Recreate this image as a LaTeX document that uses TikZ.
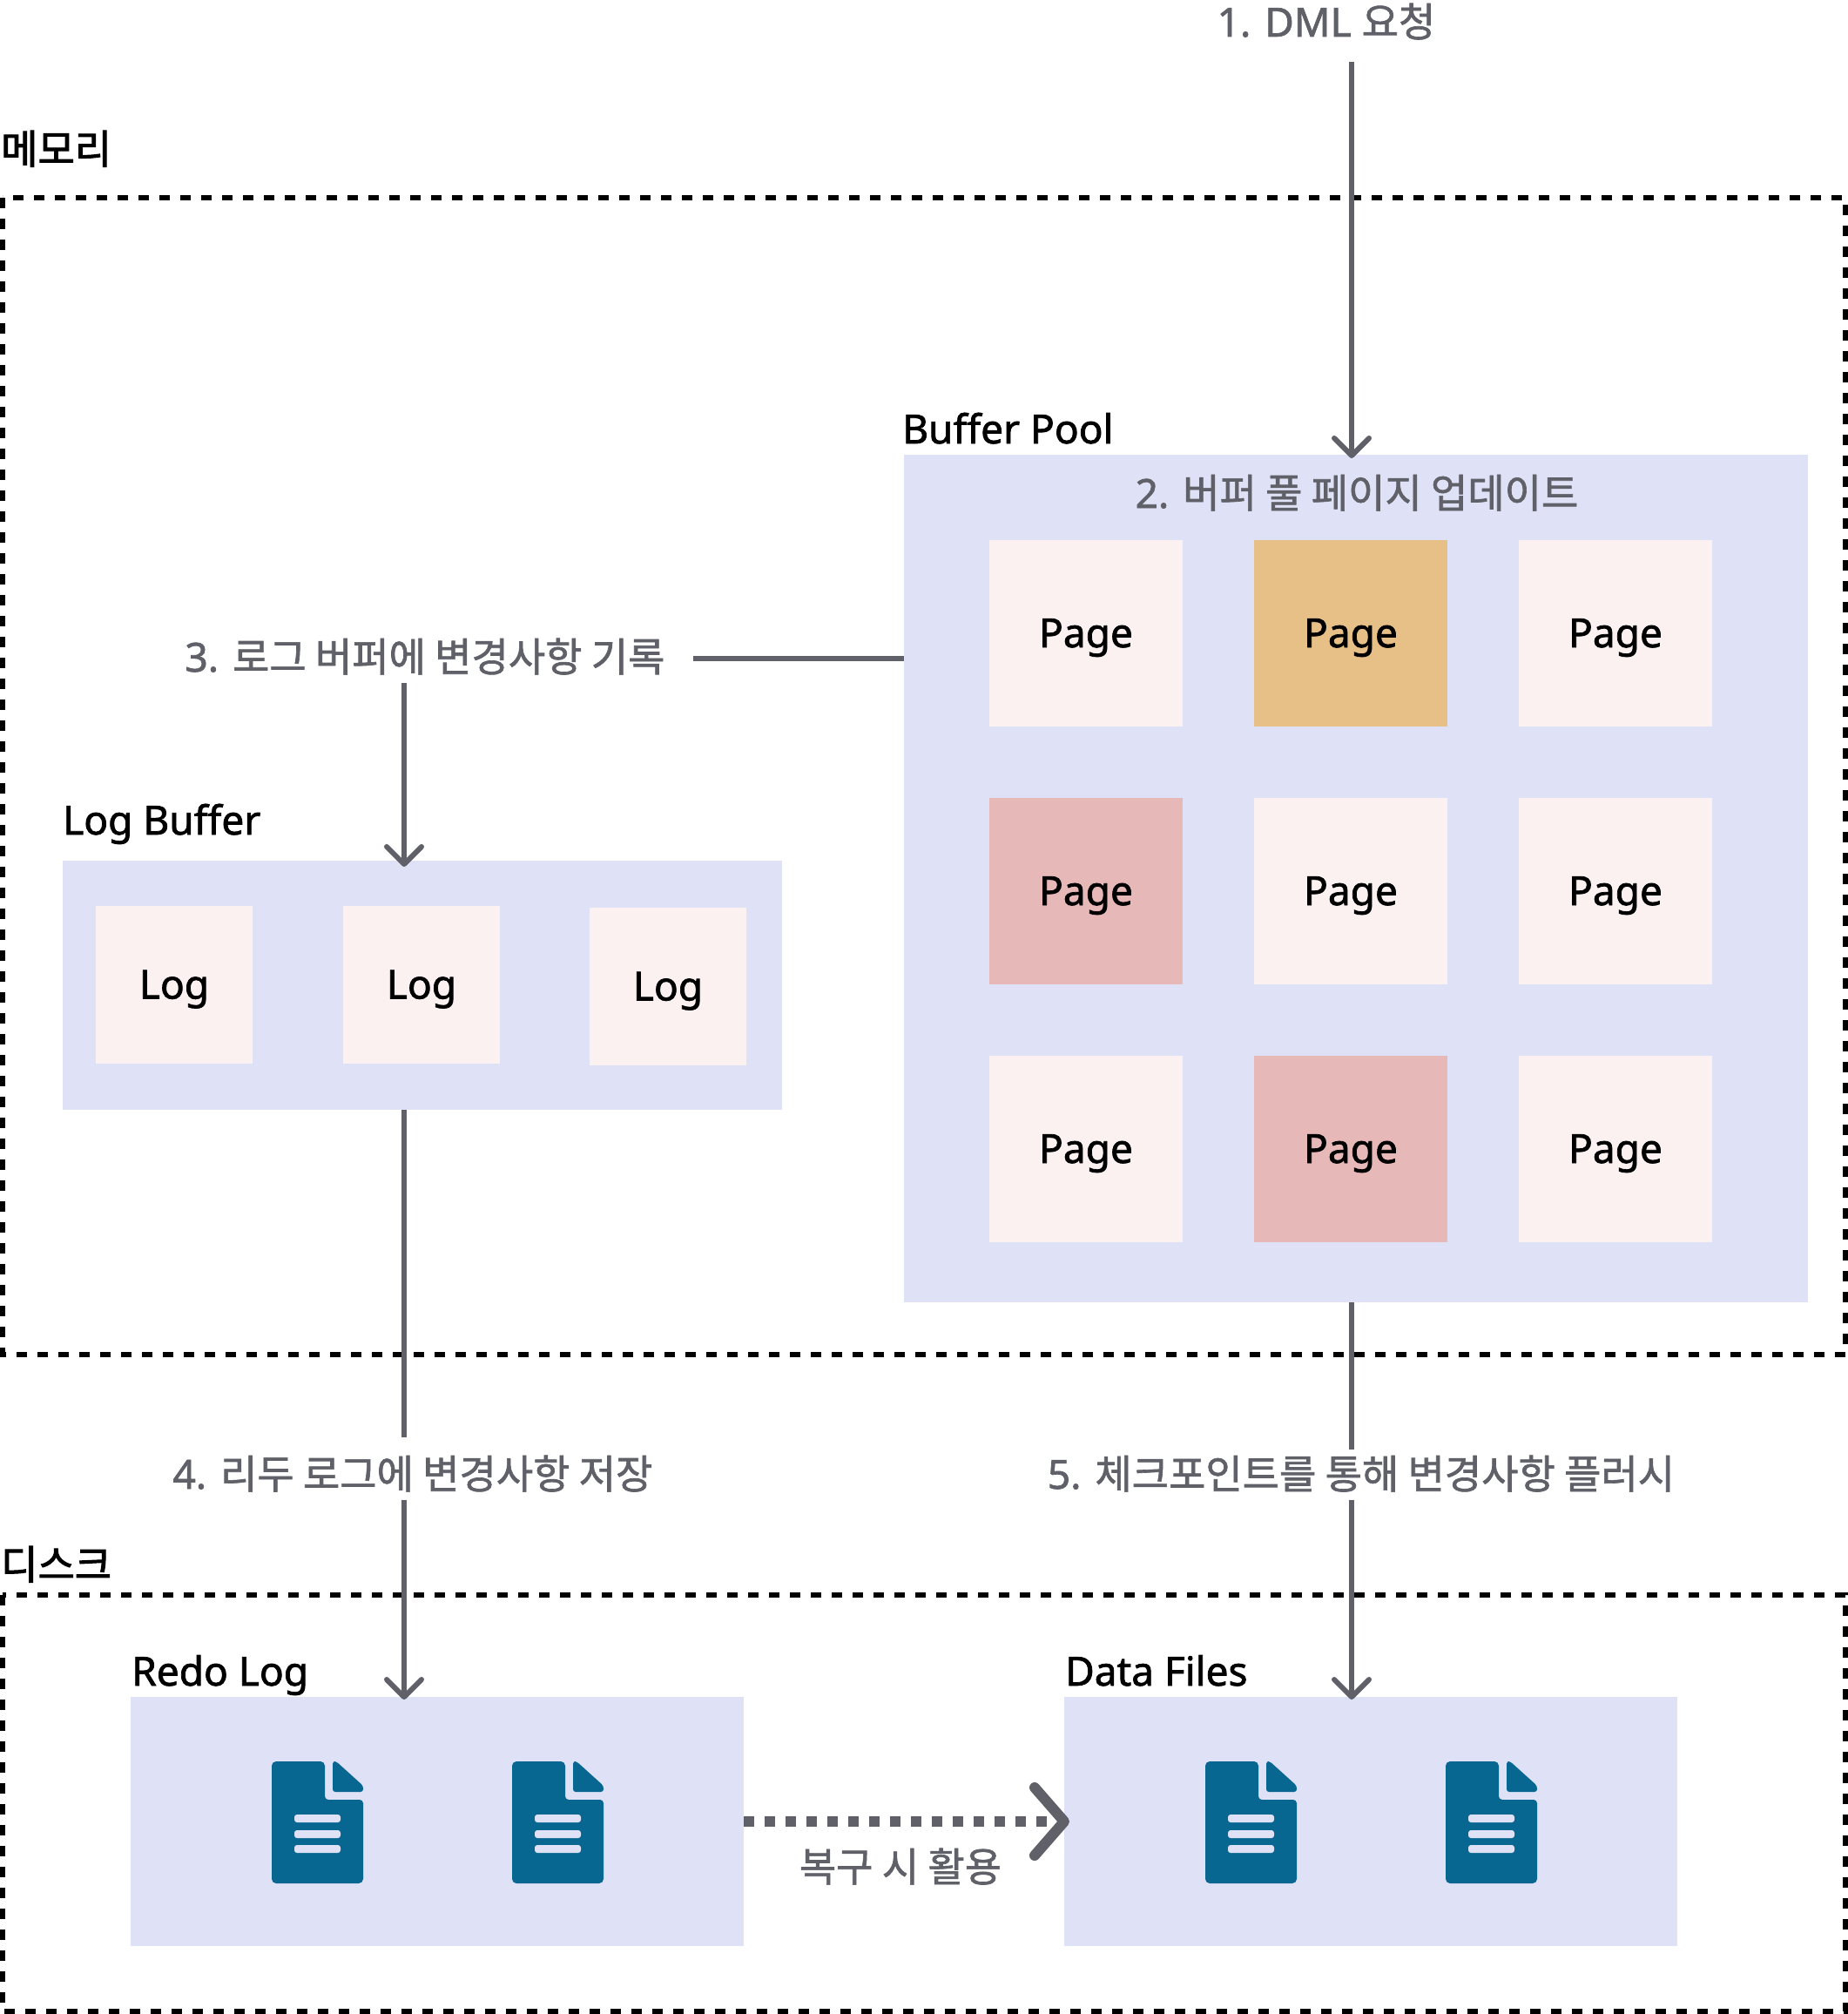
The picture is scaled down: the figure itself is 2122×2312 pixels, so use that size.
\documentclass[tikz,border=0pt]{standalone}
\usepackage{fontspec}
\usetikzlibrary{arrows.meta}
\setmainfont{Noto Sans}[FakeBold=1.6]
\newfontfamily\kr{Noto Sans CJK KR}[FakeBold=1.4]
\newfontfamily\krb{Noto Sans CJK KR}[FakeBold=2.2]
\newcommand{\fs}{\fontsize{46}{56}\selectfont}
\definecolor{pool}{HTML}{DFE1F6}
\definecolor{pagec}{HTML}{FBF1F1}
\definecolor{goldc}{HTML}{E6C087}
\definecolor{pinkc}{HTML}{E6B8B8}
\definecolor{arrowc}{HTML}{5F6068}
\definecolor{docc}{HTML}{086791}
\tikzset{
  x=1pt,y=-1pt,
  zone/.style={draw=black,line width=6pt,dash pattern=on 12pt off 12pt},
  panel/.style={fill=pool,inner sep=0pt,outer sep=0pt},
  pagebox/.style={fill=pagec,inner sep=0pt,outer sep=0pt,minimum width=222pt,minimum height=214pt,
    text height=42pt,text depth=10pt,font=\fs,text=black},
  logbox/.style={pagebox,minimum width=180pt,minimum height=181pt},
  head/.style={anchor=base west,inner sep=0pt,font=\fs,text=black},
  step label/.style={anchor=base,inner sep=0pt,font=\fs,text=arrowc},
  flow/.style={draw=arrowc,line width=6pt},
  flowtip/.style={flow,-{Straight Barb[length=20pt,width=40pt,round]}},
  dottedflow/.style={draw=arrowc,line width=12pt,dash pattern=on 12pt off 12pt,
    -{Straight Barb[length=34pt,width=78pt,round]}},
  pics/docicon/.style={code={
    \fill[docc,rounded corners=5pt] (0,0) -- (61,0) -- (61,44) [rounded corners=4pt] -- (61,44) -- (69,44) -- (105,44) [rounded corners=5pt] -- (105,140) -- (0,140) -- cycle;
    \fill[docc,rounded corners=3pt] (70,0) -- (74,0) -- (105,28) -- (105,35) -- (70,35) -- cycle;
    \foreach \yy in {61,79,96}{
      \fill[pool,rounded corners=3pt] (26,\yy) rectangle (79,\yy+9);
    }
  }}
}
\begin{document}
\begin{tikzpicture}
\path[use as bounding box] (0,0) rectangle (2122,2312);
\fill[white] (0,0) rectangle (2122,2312);

% zones
\draw[zone] (3,227) rectangle (2119,1555);
\draw[zone] (3,1831) rectangle (2119,2309);
\node[head,font=\fs\krb] (memlabel) at (1,188) {메모리};
\node[head,font=\fs\krb] (disklabel) at (1,1813) {디스크};

% buffer pool
\node[panel,minimum width=1038pt,minimum height=973pt] (bp) at (1557,1008.5) {};
\node[head] (bplabel) at (1036,509) {Buffer Pool};
\node[pagebox] (p11) at (1247,727) {Page};
\node[pagebox,fill=goldc] (p12) at (1551,727) {Page};
\node[pagebox] (p13) at (1855,727) {Page};
\node[pagebox,fill=pinkc] (p21) at (1247,1023) {Page};
\node[pagebox] (p22) at (1551,1023) {Page};
\node[pagebox] (p23) at (1855,1023) {Page};
\node[pagebox] (p31) at (1247,1319) {Page};
\node[pagebox,fill=pinkc] (p32) at (1551,1319) {Page};
\node[pagebox] (p33) at (1855,1319) {Page};

% log buffer
\node[panel,minimum width=826pt,minimum height=286pt] (lb) at (485,1131) {};
\node[head] (lblabel) at (72,958) {Log Buffer};
\node[logbox] (l1) at (200,1130.5) {Log};
\node[logbox] (l2) at (484,1130.5) {Log};
\node[logbox] (l3) at (767,1132.5) {Log};

% redo log and data files
\node[panel,minimum width=704pt,minimum height=286pt] (rl) at (502,2091) {};
\node[head] (rllabel) at (151,1935) {Redo Log};
\node[panel,minimum width=704pt,minimum height=286pt] (df) at (1574,2091) {};
\node[head] (dflabel) at (1223,1935) {Data Files};
\path (312,2022) pic {docicon};
\path (588,2022) pic {docicon};
\path (1384,2022) pic {docicon};
\path (1660,2022) pic {docicon};

% step labels
\node[step label] (s1) at (1523,42) {1. DML {\kr 요청}};
\node[step label] (s2) at (1558,583) {2. {\kr 버퍼 풀 페이지 업데이트}};
\node[step label] (s3) at (488,771) {3. {\kr 로그 버퍼에 변경사항 기록}};
\node[step label] (s4) at (474,1709) {4. {\kr 리두 로그에 변경사항 저장}};
\node[step label] (s5) at (1563,1709) {5. {\kr 체크포인트를 통해 변경사항 플러시}};
\node[step label,font=\fs\kr] (s6) at (1034,2160) {복구 시 활용};

% connectors
\coordinate (a1s) at (1552,71);
\coordinate (a3s) at (796,756);
\coordinate (a3d) at (464,784);
\coordinate (a4top) at (464,1650);
\coordinate (a4bot) at (464,1722);
\coordinate (a5top) at (1552,1664);
\coordinate (a5bot) at (1552,1722);
\draw[flowtip] (a1s) -- ([yshift=-4pt]a1s |- bp.north);
\draw[flow] (a3s) -- (a3s -| bp.west) ++(-4,0);
\draw[flowtip] (a3d) -- ([yshift=-7pt]a3d |- lb.north);
\draw[flow] (a4top |- lb.south) -- (a4top);
\draw[flowtip] (a4bot) -- ([yshift=-3pt]a4bot |- rl.north);
\draw[flow] (a5top |- bp.south) -- (a5top);
\draw[flowtip] (a5bot) -- ([yshift=-3pt]a5bot |- df.north);
\draw[dottedflow] (rl.east) -- ([xshift=6pt]df.west);
\end{tikzpicture}
\end{document}
